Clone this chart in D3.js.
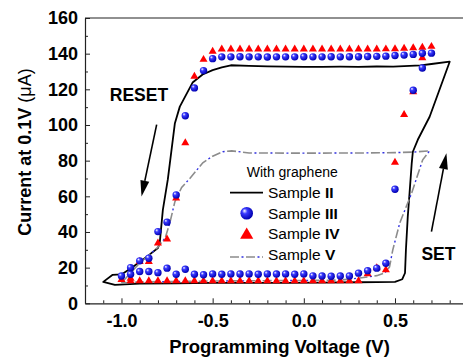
<!DOCTYPE html>
<meta charset="utf-8">
<html>
    <head>
        <style type="text/css">
            body { margin:0; background:#fff; }
            svg { display:block; }
            .graphText { font-family: "Liberation Sans", Arial, sans-serif; }
            .tick text { font-family: "Liberation Sans", Arial, sans-serif; font-weight: bold; font-size: 18px; fill:#000; }
        </style>
        <script src="https://d3js.org/d3.v7.min.js"></script>
    </head>
    <body>
        <svg width="463" height="359"></svg>
        <script type="text/javascript">
            // Sample II (black solid loop)
            var s2V = [-0.64,-0.61,-0.555,-0.5,-0.45,-0.4,-0.3,-0.2,-0.1,0,0.1,0.2,0.3,0.4,0.49,0.55,0.64,0.7,0.8,
                       0.69,0.625,0.598,0.592,0.58,0.57,0.56,0.555,0.54,0.5,0.3,0.1,-0.1,-0.3,-0.5,-0.7,-0.9,-1.036,-1.1,
                       -1.05,-1.0,-0.95,-0.9,-0.85,-0.8,-0.79,-0.773,-0.746,-0.707,-0.68,-0.64];
            var s2I = [118,123.8,128.3,130.8,132.3,133.5,133.2,132.9,132.7,132.6,132.6,132.7,132.6,132.8,132.7,133,133.4,134.2,135.5,
                       104.6,91.7,85,78.8,62,48.5,30,17,13.5,12,11.8,11.6,11.5,11.5,11.4,11.2,11,10.3,12,
                       15.9,16.2,19.5,23.2,27,31,34,52.4,69.3,101,110.3,118];

            // Sample III (blue spheres)
            var s3V = [-0.6,-0.55,-0.5,-0.45,-0.4,-0.35,-0.3,-0.25,-0.2,-0.15,-0.1,-0.05,0,0.05,0.1,0.15,0.2,0.25,0.3,0.35,0.4,0.45,0.5,0.55,0.6,0.65,0.7,
                       0.65,0.6,0.5,0.45,
                       0.4,0.35,0.3,0.25,0.2,0.15,0.1,0.05,0,-0.05,-0.1,-0.15,-0.2,-0.25,-0.3,-0.35,-0.4,-0.45,-0.5,-0.55,-0.6,-0.65,-0.7,-0.75,-0.8,-0.85,-0.9,-0.95,-1.0,
                       -0.95,-0.9,-0.85,-0.8,-0.75,-0.7,-0.65];
            var s3I = [120.8,130.5,137.2,138.2,138.2,138.3,138.2,138.2,138.1,138.2,138.2,138.2,138.3,138.2,138.2,138.3,138.2,138.3,138.3,138.4,138.5,138.6,139,139.2,139.6,140.2,140.3,
                       132,119.5,64,22.5,
                       19.7,18.3,16.9,15.3,15.3,15.2,15.3,15.4,16.5,16.3,16.5,16.4,16.5,16.3,16.5,16.4,16.5,16.3,16.5,16,16.3,19.1,16.3,19.7,17.2,17.8,17.8,16.3,15.3,
                       20,23.8,25.3,40.2,45.5,60.8,105.2];

            // Sample IV (red triangles)
            var s4V = [-0.6,-0.55,-0.5,-0.45,-0.4,-0.35,-0.3,-0.25,-0.2,-0.15,-0.1,-0.05,0,0.05,0.1,0.15,0.2,0.25,0.3,0.35,0.4,0.45,0.5,0.55,0.6,0.65,0.7,
                       0.65,0.6,0.55,0.5,0.45,0.4,0.35,
                       0.3,0.25,0.2,0.15,0.1,0.05,0,-0.05,-0.1,-0.15,-0.2,-0.25,-0.3,-0.35,-0.4,-0.45,-0.5,-0.55,-0.6,-0.65,-0.7,-0.75,-0.8,-0.85,-0.9,-0.95,-1.0,
                       -0.95,-0.9,-0.85,-0.8,-0.75,-0.7,-0.65];
            var s4I = [127.3,136.7,141.3,142.5,142.5,142.5,142.5,142.5,142.5,142.5,142.5,142.5,142.5,142.5,142.5,142.5,142.5,142.5,142.5,142.5,142.5,142.6,142.7,143,143.2,143.5,144,
                       137.6,118.5,105.8,79,18.7,19.8,16.5,
                       12.6,12.5,12.6,12.5,12.6,12.5,12.6,12.5,12.6,12.5,12.6,12.5,12.6,12.5,12.6,12.5,12.6,12.5,12.6,12.5,12.6,12.5,12.6,12.5,12.6,12.5,13.3,
                       14,23.4,23.4,33.7,36,59,89.9];

            // Sample V (grey dash-dot loop)
            var s5V = [-1.0,-0.95,-0.9,-0.85,-0.8,-0.76,-0.735,-0.707,-0.67,-0.625,-0.554,-0.5,-0.444,-0.395,-0.3,0,0.3,0.5,0.6,0.69,
                       0.652,0.592,0.526,0.488,0.47,0.444,0.4,0.307,0.2,0,-0.5,-0.9,-1.0];
            var s5I = [11.4,17,22.6,27,31.5,36.7,45,57,65,70,78.8,82.5,85,85.5,84.3,84.2,84.3,84.5,84.8,85.5,
                       80.5,62,45,30,20.4,17,15.5,14.2,13,12.8,12.5,12,11.4];

            var xMajor = [-1.0, -0.5, 0.0, 0.5];
            var xMinor = [-1.1,-0.9,-0.8,-0.7,-0.6,-0.4,-0.3,-0.2,-0.1,0.1,0.2,0.3,0.4,0.6,0.7,0.8];
            var yMajor = [0, 20, 40, 60, 80, 100, 120, 140, 160];
            var yMinor = [10, 30, 50, 70, 90, 110, 130, 150];
            var legendNames = ["II", "III", "IV", "V"];

            var x = d3.scaleLinear().domain([-1.2, 0.873]).range([85, 463]);
            var y = d3.scaleLinear().domain([0, 160]).range([303.3, 18]);

            var svg = d3.select("svg");
            var defs = svg.append("defs");
            var grad = defs.append("radialGradient").attr("id", "ball")
                .attr("cx", "40%").attr("cy", "40%").attr("r", "60%")
                .attr("fx", "32%").attr("fy", "30%");
            grad.append("stop").attr("offset", "0%").attr("stop-color", "#ffffff");
            grad.append("stop").attr("offset", "35%").attr("stop-color", "#3a3aff");
            grad.append("stop").attr("offset", "100%").attr("stop-color", "#0000b0");

            // axes
            svg.append("g")
                .attr("transform", "translate(0," + y(0) + ")")
                .call(d3.axisBottom(x).tickValues(xMajor).tickFormat(d => d.toFixed(1))
                    .tickSizeInner(-5).tickSizeOuter(0).tickPadding(11));
            svg.append("g")
                .attr("transform", "translate(0," + y(0) + ")")
                .call(d3.axisBottom(x).tickValues(xMinor).tickFormat("").tickSizeInner(-3).tickSizeOuter(0))
                .select(".domain").remove();
            svg.append("g")
                .attr("transform", "translate(" + x(-1.2) + ",0)")
                .call(d3.axisLeft(y).tickValues(yMajor).tickSizeInner(-5).tickSizeOuter(0).tickPadding(7));
            svg.append("g")
                .attr("transform", "translate(" + x(-1.2) + ",0)")
                .call(d3.axisLeft(y).tickValues(yMinor).tickFormat("").tickSizeInner(-3).tickSizeOuter(0))
                .select(".domain").remove();
            svg.selectAll(".domain").attr("stroke", "#222").attr("stroke-width", 1.2);
            svg.selectAll(".tick line").attr("stroke", "#222");
            svg.append("line")
                .attr("x1", x(-1.2)).attr("x2", x(0.873)).attr("y1", y(160)).attr("y2", y(160))
                .attr("stroke", "#222").attr("stroke-width", 1.2);

            var line = d3.line().x(d => x(d[0])).y(d => y(d[1]));

            // Sample II
            svg.append("path")
                .datum(d3.zip(s2V, s2I))
                .attr("d", line)
                .attr("fill", "none").attr("stroke", "#000").attr("stroke-width", 1.8)
                .attr("stroke-linejoin", "round");

            // Sample V
            var s5 = d3.zip(s5V, s5I);
            svg.append("path").datum(s5).attr("d", line)
                .attr("fill", "none").attr("stroke", "#8c8c8c").attr("stroke-width", 1.6)
                .attr("stroke-dasharray", "9,7");
            svg.append("path").datum(s5).attr("d", line)
                .attr("fill", "none").attr("stroke", "#3030e0").attr("stroke-width", 1.4)
                .attr("stroke-dasharray", "2,14").attr("stroke-dashoffset", -11.5);

            // Sample IV
            var tri = d3.symbol().type(d3.symbolTriangle).size(28);
            svg.append("g").selectAll("path")
                .data(d3.zip(s4V, s4I))
                .enter().append("path")
                .attr("d", tri)
                .attr("transform", d => "translate(" + x(d[0]) + "," + y(d[1]) + ")")
                .attr("fill", "#ff0000");

            // Sample III
            svg.append("g").selectAll("circle")
                .data(d3.zip(s3V, s3I))
                .enter().append("circle")
                .attr("cx", d => x(d[0]))
                .attr("cy", d => y(d[1]))
                .attr("r", 3.7)
                .attr("fill", "url(#ball)");

            // arrows + labels
            function arrow(v0, i0, v1, i1) {
                var x0 = x(v0), y0 = y(i0), x1 = x(v1), y1 = y(i1);
                var a = Math.atan2(y1 - y0, x1 - x0);
                var len = 16, w = 4.5;
                var bx = x1 - len * Math.cos(a), by = y1 - len * Math.sin(a);
                svg.append("line").attr("x1", x0).attr("y1", y0).attr("x2", bx).attr("y2", by)
                    .attr("stroke", "#000").attr("stroke-width", 1.6);
                svg.append("path")
                    .attr("d", "M" + x1 + "," + y1 +
                        "L" + (bx + w * Math.sin(a)) + "," + (by - w * Math.cos(a)) +
                        "L" + (bx - w * Math.sin(a)) + "," + (by + w * Math.cos(a)) + "Z")
                    .attr("fill", "#000");
            }
            arrow(-0.807, 100.2, -0.89, 59.9);
            arrow(0.70, 40.2, 0.782, 84.2);

            svg.append("text").attr("class", "graphText")
                .attr("x", x(-1.064)).attr("y", y(113.3))
                .style("font-weight", "bold").style("font-size", "17.5px")
                .text("RESET");
            svg.append("text").attr("class", "graphText")
                .attr("x", x(0.645)).attr("y", y(24.3))
                .style("font-weight", "bold").style("font-size", "17.5px")
                .text("SET");

            // axis titles
            svg.append("text").attr("class", "graphText")
                .attr("x", 279.5).attr("y", 353)
                .style("text-anchor", "middle").style("font-weight", "bold").style("font-size", "18.5px")
                .text("Programming Voltage (V)");
            var yt = svg.append("text").attr("class", "graphText")
                .attr("transform", "translate(31,152) rotate(-90)")
                .style("text-anchor", "middle").style("font-size", "18px");
            yt.append("tspan").style("font-weight", "bold").text("Current at 0.1V ");
            yt.append("tspan").text("(\u03bcA)");

            // legend
            var lg = svg.append("g").attr("class", "graphText");
            lg.append("text").attr("x", 246.7).attr("y", 176.7)
                .style("font-size", "14px").text("With graphene");
            legendNames.forEach((n, i) => {
                var t = lg.append("text").attr("x", 268).attr("y", 197.7 + i * 20.8)
                    .style("font-size", "15.5px");
                t.append("tspan").text("Sample ");
                t.append("tspan").style("font-weight", "bold").text(n);
            });
            var ly = [192.7, 213.3, 235, 257];
            lg.append("line").attr("x1", 230).attr("x2", 263).attr("y1", ly[0]).attr("y2", ly[0])
                .attr("stroke", "#000").attr("stroke-width", 1.8);
            lg.append("circle").attr("cx", 246.7).attr("cy", ly[1]).attr("r", 6.3).attr("fill", "url(#ball)");
            lg.append("path").attr("d", d3.symbol().type(d3.symbolTriangle).size(75))
                .attr("transform", "translate(246.7," + ly[2] + ")").attr("fill", "#ff0000");
            lg.append("line").attr("x1", 230).attr("x2", 263).attr("y1", ly[3]).attr("y2", ly[3])
                .attr("stroke", "#8c8c8c").attr("stroke-width", 1.6).attr("stroke-dasharray", "9,7");
            lg.append("line").attr("x1", 230).attr("x2", 263).attr("y1", ly[3]).attr("y2", ly[3])
                .attr("stroke", "#3030e0").attr("stroke-width", 1.4)
                .attr("stroke-dasharray", "2,14").attr("stroke-dashoffset", -11.5);
        </script>
    </body>
</html>
